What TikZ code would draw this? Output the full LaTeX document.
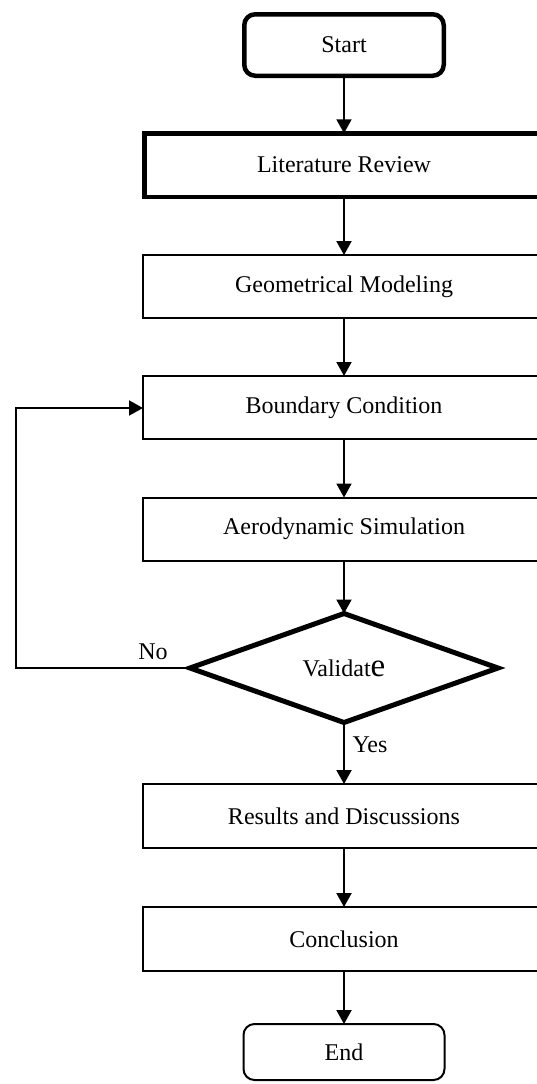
\documentclass[tikz,border=0pt]{standalone}
\usepackage{fontspec}
\setmainfont{Liberation Serif}
\usetikzlibrary{shapes.geometric,arrows.meta}
\begin{document}
\begin{tikzpicture}[x=1pt,y=-1pt,
  every node/.style={font=\fontsize{24}{28}\selectfont, inner sep=0pt, outer sep=0pt},
  thinbox/.style={draw, line width=2pt, minimum width=402pt, minimum height=63pt},
  thickbox/.style={draw, line width=4.5pt, minimum width=399.5pt, minimum height=63.5pt},
  termthick/.style={draw, line width=4.5pt, rounded corners=11pt, minimum width=199.5pt, minimum height=61.5pt},
  termthin/.style={draw, line width=2pt, rounded corners=11pt, minimum width=201pt, minimum height=56pt},
  decide/.style={draw, diamond, line width=5pt, minimum width=308pt, minimum height=109pt},
  flow/.style={line width=2pt, -{Triangle[length=14pt,width=15pt]}},
  lbl/.style={font=\fontsize{24}{28}\selectfont}
]
\useasboundingbox (0,0) rectangle (537,1084);
\clip (0,0) rectangle (537,1084);
\node[termthick] (start) at (344,45) {Start};
\node[thickbox] (lit) at (344,165) {Literature Review};
\node[thinbox] (geo) at (344,286.5) {Geometrical Modeling};
\node[thinbox] (bc) at (344,407.5) {Boundary Condition};
\node[thinbox] (aero) at (344,529) {Aerodynamic Simulation};
\node[decide] (val) at (344,668) {Validat{\fontsize{33}{36}\selectfont e}};
\node[thinbox, minimum height=64pt] (res) at (344,816) {Results and Discussions};
\node[thinbox, minimum height=64pt] (conc) at (344,939) {Conclusion};
\node[termthin] (end) at (344,1052) {End};
\coordinate (lb) at (16,668);
\coordinate (lt) at (16,408);
\draw[flow] (start.south) -- (lit.north);
\draw[flow] (lit.south) -- (geo.north);
\draw[flow] (geo.south) -- (bc.north);
\draw[flow] (bc.south) -- (aero.north);
\draw[flow] (aero.south) -- (val.north);
\draw[flow] (val.south) -- (res.north);
\draw[flow] (res.south) -- (conc.north);
\draw[flow] (conc.south) -- (end.north);
\draw[flow] (val.west) -- (lb) -- (lt) -- (bc.west |- lt);
\node[lbl] (no) at (153,652) {No};
\node[lbl] (yes) at (370,745) {Yes};
\end{tikzpicture}
\end{document}
